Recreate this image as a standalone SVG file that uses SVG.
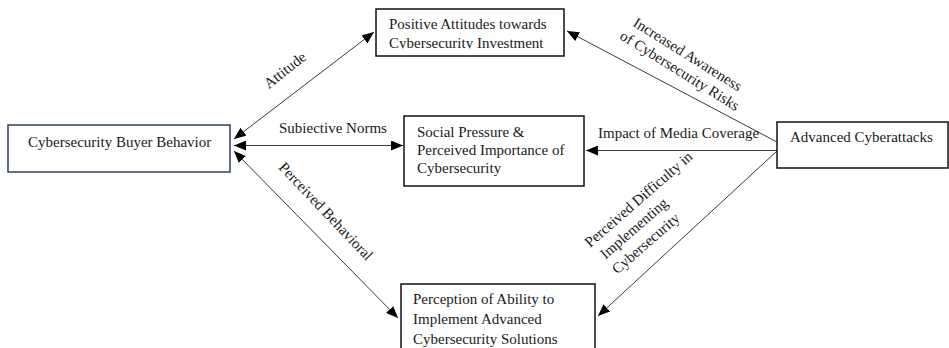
<svg xmlns="http://www.w3.org/2000/svg" width="949" height="348" viewBox="0 0 949 348">
  <style>
    .box { fill: #ffffff; stroke: #111111; stroke-width: 1.5; }
    .box-blue { fill: #ffffff; stroke: #2e3f5c; stroke-width: 1.5; }
    .txt { font-family: "Liberation Serif", "Times New Roman", serif; font-size: 15px; fill: #1a1a1a; }
    .lbl { font-family: "Liberation Serif", "Times New Roman", serif; font-size: 15px; fill: #1a1a1a; }
    .edge { stroke: #3a3a3a; stroke-width: 1; fill: none; }
  </style>
  <defs>
    <marker id="arrow" viewBox="0 0 12 10" refX="12" refY="5" markerWidth="12" markerHeight="10" markerUnits="userSpaceOnUse" orient="auto-start-reverse">
      <path d="M0,0 L12,5 L0,10 Z" fill="#000000"/>
    </marker>
    <clipPath id="clip-attitudes">
      <rect x="376" y="9" width="188" height="39.5"/>
    </clipPath>
  </defs>

  <rect width="949" height="348" fill="#ffffff"/>

  <!-- connectors -->
  <g id="connectors">
    <line class="edge" x1="234" y1="139" x2="374" y2="32" marker-start="url(#arrow)" marker-end="url(#arrow)"/>
    <line class="edge" x1="234" y1="145.5" x2="403" y2="145.5" marker-start="url(#arrow)" marker-end="url(#arrow)"/>
    <line class="edge" x1="234" y1="151" x2="398" y2="318" marker-start="url(#arrow)" marker-end="url(#arrow)"/>
    <line class="edge" x1="777" y1="142" x2="567" y2="31" marker-end="url(#arrow)"/>
    <line class="edge" x1="777" y1="150.5" x2="586" y2="150.5" marker-end="url(#arrow)"/>
    <line class="edge" x1="777" y1="151" x2="598" y2="316" marker-end="url(#arrow)"/>

    <!-- connector labels -->
    <text class="lbl" text-anchor="middle" transform="translate(288,74) rotate(-38)">Attitude</text>
    <text class="lbl" x="279" y="133">Subiective Norms</text>
    <text class="lbl" transform="translate(278,168) rotate(46.5)">Perceived Behavioral</text>
    <g transform="translate(685,58.5) rotate(32)">
      <text class="lbl" text-anchor="middle" x="0" y="0">Increased Awareness</text>
      <text class="lbl" text-anchor="middle" x="2" y="18">of Cybersecurity Risks</text>
    </g>
    <text class="lbl" x="598" y="138">Impact of Media Coverage</text>
    <g transform="translate(590,248) rotate(-41)">
      <text class="lbl" x="0" y="0">Perceived Difficulty in</text>
      <text class="lbl" x="4" y="19">Implementing</text>
      <text class="lbl" x="3" y="38">Cybersecurity</text>
    </g>
  </g>

  <!-- nodes -->
  <g id="node-buyer-behavior">
    <rect class="box-blue" x="8" y="125" width="222" height="47"/>
    <text class="txt" x="28" y="147">Cybersecurity  Buyer Behavior</text>
  </g>

  <g id="node-positive-attitudes">
    <rect class="box" x="376" y="9" width="188" height="47"/>
    <g clip-path="url(#clip-attitudes)">
      <text class="txt" x="389" y="29">Positive Attitudes towards</text>
      <text class="txt" x="389" y="47.5">Cybersecurity  Investment</text>
    </g>
  </g>

  <g id="node-social-pressure">
    <rect class="box" x="404" y="116" width="180" height="70"/>
    <text class="txt" x="417" y="137">Social Pressure &amp;</text>
    <text class="txt" x="417" y="155">Perceived  Importance of</text>
    <text class="txt" x="417" y="173">Cybersecurity</text>
  </g>

  <g id="node-advanced-cyberattacks">
    <rect class="box" x="777" y="122" width="171" height="46"/>
    <text class="txt" x="790" y="142">Advanced Cyberattacks</text>
  </g>

  <g id="node-perception-ability">
    <rect class="box" x="401" y="284" width="194" height="80"/>
    <text class="txt" x="413" y="304">Perception of Ability to</text>
    <text class="txt" x="413" y="324">Implement Advanced</text>
    <text class="txt" x="413" y="344">Cybersecurity  Solutions</text>
  </g>
</svg>
